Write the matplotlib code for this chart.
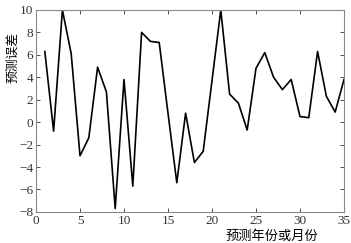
import matplotlib
matplotlib.use("Agg")
import matplotlib.pyplot as plt

# 预测误差数据
periods = list(range(1, 36))
errors = [6.3, -0.8, 10.0, 6.1, -3.0, -1.4, 4.9, 2.7, -7.7, 3.8,
          -5.7, 8.0, 7.2, 7.1, 0.8, -5.4, 0.8, -3.6, -2.6, 3.7,
          10.0, 2.5, 1.7, -0.7, 4.8, 6.2, 4.0, 2.9, 3.8, 0.5,
          0.4, 6.3, 2.3, 0.9, 3.8]
xticks = [0, 5, 10, 15, 20, 25, 30, 35]
yticks = [-8, -6, -4, -2, 0, 2, 4, 6, 8, 10]

plt.rcParams['font.family'] = ['Liberation Serif', 'DejaVu Serif']
plt.rcParams['axes.unicode_minus'] = True
cjk = ['Noto Sans CJK SC', 'DejaVu Sans']

fig = plt.figure(figsize=(3.51, 2.43), dpi=100)
ax = fig.add_axes([0.1026, 0.128, 0.8774, 0.831])
ax.plot(periods, errors, color='black', linewidth=1.2)

ax.set_xlim(0, 35)
ax.set_ylim(-8, 10)
ax.set_xticks(xticks)
ax.set_yticks(yticks)
ax.tick_params(direction='in', top=True, right=True, length=3, width=0.6,
               labelsize=9.5, colors='#333333', pad=2)
for s in ax.spines.values():
    s.set_color('#888888')
    s.set_linewidth(0.8)

fig.text(0.037, 0.765, '预测误差', family=cjk, fontsize=9.2,
         rotation=90, ha='center', va='center')
fig.text(0.775, 0.029, '预测年份或月份', family=cjk, fontsize=9.5,
         ha='center', va='center')

fig.savefig('out.png', dpi=100)
